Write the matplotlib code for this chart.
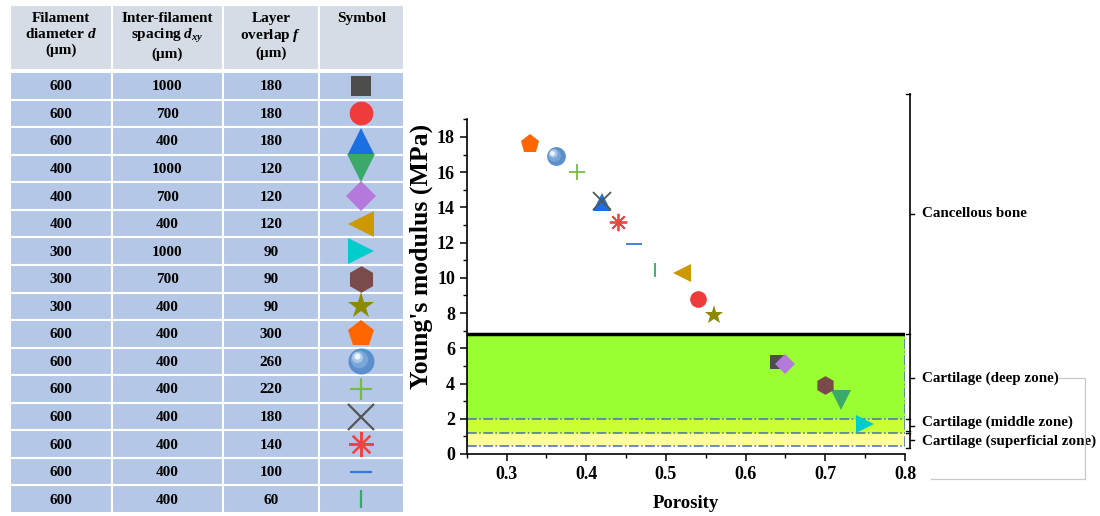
import numpy as np
import matplotlib
matplotlib.use('Agg')
import matplotlib.pyplot as plt
from matplotlib.transforms import ScaledTranslation, blended_transform_factory
from matplotlib.patches import Rectangle
from matplotlib.lines import Line2D
from matplotlib.ticker import MultipleLocator

plt.rcParams['font.family'] = ['Liberation Serif', 'DejaVu Serif']
plt.rcParams['font.weight'] = 'bold'
plt.rcParams['mathtext.fontset'] = 'custom'
plt.rcParams['mathtext.rm'] = 'Liberation Serif:bold'
plt.rcParams['mathtext.it'] = 'Liberation Serif:italic:bold'
plt.rcParams['mathtext.bf'] = 'Liberation Serif:bold'

# ---------------- data ----------------
headers = ['Filament\ndiameter $d$\n(μm)', 'Inter-filament\nspacing $d_{xy}$\n(μm)',
           'Layer\noverlap $f$\n(μm)', 'Symbol']
diameters = [600, 600, 600, 400, 400, 400, 300, 300, 300, 600, 600, 600, 600, 600, 600, 600]
spacings = [1000, 700, 400, 1000, 700, 400, 1000, 700, 400, 400, 400, 400, 400, 400, 400, 400]
overlaps = [180, 180, 180, 120, 120, 120, 90, 90, 90, 300, 260, 220, 180, 140, 100, 60]
porosity = [0.64, 0.54, 0.42, 0.72, 0.65, 0.52, 0.75, 0.70, 0.56, 0.33, 0.362, 0.388, 0.42, 0.44, 0.46, 0.486]
modulus = [5.2, 8.8, 14.3, 3.05, 5.1, 10.25, 1.7, 3.9, 7.9, 17.6, 16.9, 16.0, 14.35, 13.15, 11.9, 10.45]
markers = ['s', 'o', '^', 'v', 'D', '<', '>', 'h', '*', 'p', 'sphere', '+', 'x', (8, 2, 0), '_', '|']
colors = ['#4d4d4d', '#ef3b3b', '#1c6fe0', '#3aa96a', '#b47adb', '#cc9900', '#00cccc', '#7b4a4a',
          '#8c8a00', '#ff6600', '#6699cc', '#77bb44', '#555555', '#ee4444', '#3377dd', '#33aa66']
sizes = [10, 12, 13, 14, 10.5, 13, 13, 13.5, 14, 14, 12.5, 11, 13, 12.5, 11, 9.5]

zone_labels = ['Cancellous bone', 'Cartilage (deep zone)', 'Cartilage (middle zone)',
               'Cartilage (superficial zone)']
zone_label_y = [13.65, 4.28, 1.82, 0.74]
band_limits = [(2.0, 6.8), (1.2, 2.0), (0.45, 1.2)]
band_colors = ['#99ff33', '#ccff33', '#ffff99']

fig = plt.figure(figsize=(11, 5.16), dpi=100)


def draw_marker(ax, x, y, m, c, size, lw=1.3, z=5):
    if m == 'sphere':
        ax.plot([x], [y], marker='o', ms=size, color='#5b8fcc', mec='#5b8fcc', ls='none', zorder=z)
        for frac, col, off in [(0.65, '#79a6d8', 0.10), (0.4, '#a9c6e8', 0.17), (0.2, '#eef4fb', 0.2)]:
            tr = ax.transData + ScaledTranslation(-off * size / 72, off * size / 72, fig.dpi_scale_trans)
            ax.plot([x], [y], marker='o', ms=size * frac, color=col, mec=col, ls='none',
                    transform=tr, zorder=z + 0.1)
    elif m in ['+', 'x', '_', '|'] or isinstance(m, tuple):
        ax.plot([x], [y], marker=m, ms=size, color=c, mec=c, mew=lw, ls='none', zorder=z)
    else:
        ax.plot([x], [y], marker=m, ms=size, color=c, mec=c, mew=0, ls='none', zorder=z)


# ---------------- table ----------------
tab = fig.add_axes([10 / 1100, 1 - 513 / 516, 394 / 1100, 508 / 516])
tab.set_xlim(0, 394)
tab.set_ylim(508, 0)
tab.axis('off')
col_edges = [0, 102, 213, 309, 394]
head_h = 65
row_top = 67
row_h = (508 - row_top) / len(diameters)

for j in range(4):
    x0, x1 = col_edges[j], col_edges[j + 1]
    tab.add_patch(Rectangle((x0, 0), x1 - x0, head_h, facecolor='#d6dce5', edgecolor='white', lw=1.5))
    tab.text((x0 + x1) / 2, 7, headers[j], ha='center', va='top', fontsize=11,
             fontweight='bold', linespacing=1.2)
columns = [diameters, spacings, overlaps]
for i in range(len(diameters)):
    y0 = row_top + i * row_h
    for j in range(4):
        x0, x1 = col_edges[j], col_edges[j + 1]
        tab.add_patch(Rectangle((x0, y0), x1 - x0, row_h, facecolor='#b4c7e7', edgecolor='white', lw=1.5))
        if j < 3:
            tab.text((x0 + x1) / 2, y0 + row_h / 2 + 1, str(columns[j][i]), ha='center', va='center',
                     fontsize=11, fontweight='bold')
    draw_marker(tab, (col_edges[3] + col_edges[4]) / 2, y0 + row_h / 2, markers[i], colors[i],
                sizes[i] * 1.42, lw=1.6)

# ---------------- scatter plot ----------------
ax = fig.add_axes([466.7 / 1100, 1 - 454 / 516, (905 - 466.7) / 1100, (454 - 119.3) / 516])
ax.set_xlim(0.25, 0.8)
ax.set_ylim(0, 19)

for (lo, hi), c in zip(band_limits, band_colors):
    ax.axhspan(lo, hi, color=c, lw=0, zorder=1)
dash_col = '#4a6cb3'
for lo, hi in band_limits:
    ax.axhline(lo, color=dash_col, ls='-.', lw=1.1, zorder=2)
ax.vlines([0.25, 0.8], band_limits[-1][0], band_limits[0][1], color=dash_col, ls='-.', lw=1.1, zorder=2)
ax.axhline(band_limits[0][1], color='black', lw=2.5, zorder=3)

for x, y, m, c, s in zip(porosity, modulus, markers, colors, sizes):
    draw_marker(ax, x, y, m, c, s)

for side in ['top', 'right']:
    ax.spines[side].set_visible(False)
for side in ['left', 'bottom']:
    ax.spines[side].set_linewidth(1.2)
ax.xaxis.set_major_locator(MultipleLocator(0.1))
ax.xaxis.set_minor_locator(MultipleLocator(0.05))
ax.yaxis.set_major_locator(MultipleLocator(2))
ax.yaxis.set_minor_locator(MultipleLocator(1))
ax.tick_params(which='major', direction='out', length=5, width=1.1, labelsize=13)
ax.tick_params(which='minor', direction='out', length=3, width=1.0)
for lab in ax.get_xticklabels() + ax.get_yticklabels():
    lab.set_fontweight('bold')
ax.set_xlabel('Porosity', fontsize=13.5, fontweight='bold', labelpad=9)
ax.set_ylabel("Young's modulus (MPa)", fontsize=18.5, fontweight='bold')
ax.yaxis.set_label_coords(-0.077, 0.589)

# right-hand bracket axis
bt = blended_transform_factory(ax.transAxes, ax.transData)
xb = 1.0114
tk = 0.009
segs = [(20.45, 2.0), (1.93, 1.3), (1.2, 0.36)]
for top, bot in segs:
    ax.add_line(Line2D([xb, xb], [bot, top], transform=bt, color='black', lw=1.2, clip_on=False))
for yt in [20.45, 6.8, 2.0, 1.3, 1.2, 0.36]:
    ax.add_line(Line2D([xb - tk, xb], [yt, yt], transform=bt, color='black', lw=1.0, clip_on=False))
for yt in [13.65, 4.3, 1.6, 0.78]:
    ax.add_line(Line2D([xb, xb + tk], [yt, yt], transform=bt, color='black', lw=1.0, clip_on=False))
for lab, yl in zip(zone_labels, zone_label_y):
    ax.text(1.0388, yl, lab, transform=bt, ha='left', va='center', fontsize=10.8, fontweight='bold')

# light grey connector box
gx = [1058 / 1100, 1085 / 1100, 1085 / 1100, 931 / 1100]
gy = [1 - 378 / 516, 1 - 378 / 516, 1 - 479 / 516, 1 - 479 / 516]
fig.add_artist(Line2D(gx, gy, transform=fig.transFigure, color='#c8c8c8', lw=0.9))

fig.savefig('out.png', dpi=100)
